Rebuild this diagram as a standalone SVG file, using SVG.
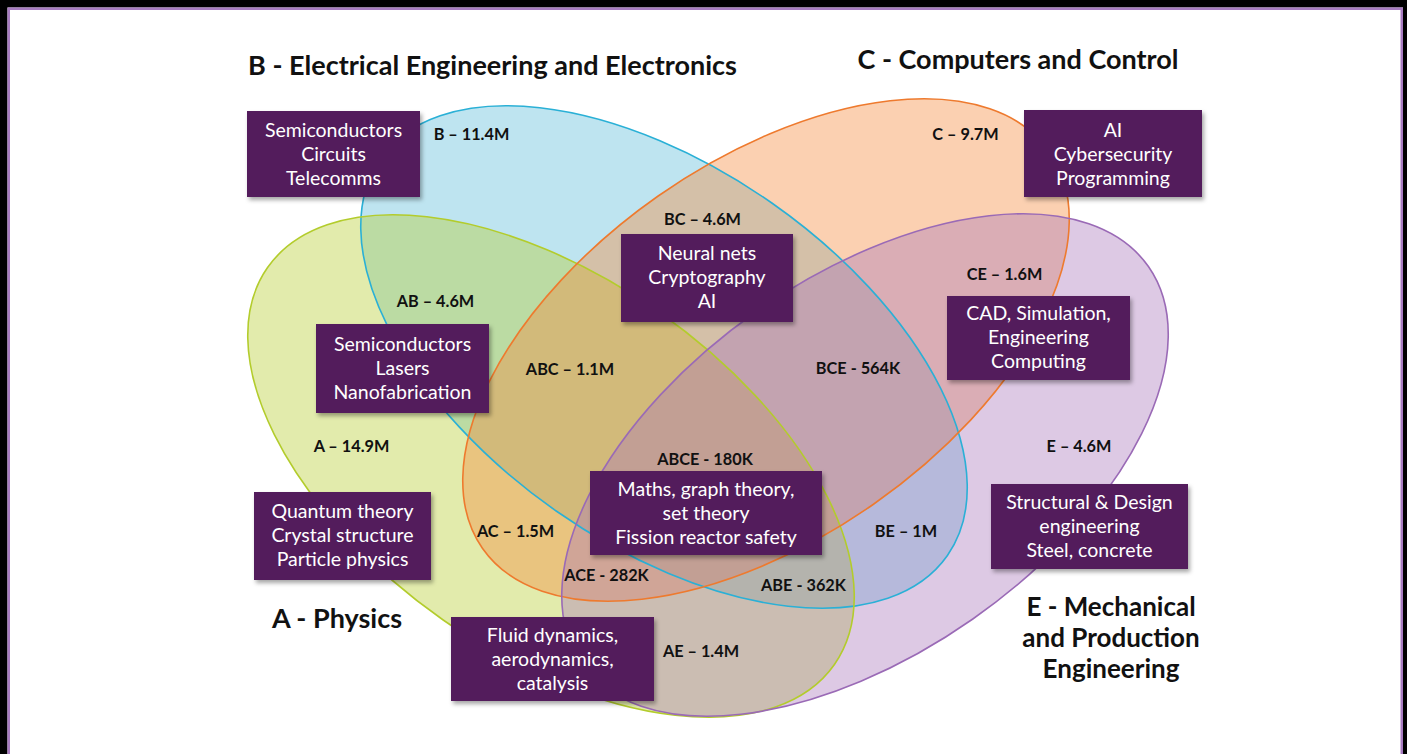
<svg xmlns="http://www.w3.org/2000/svg" width="1407" height="754" viewBox="0 0 1407 754">
<defs>
<style>
.set{fill-opacity:0.4;stroke:none}
.edge{fill:none;stroke-width:1.6}
.box{fill:#521a5c;filter:url(#sh)}
.bt{font-family:Lato,"Open Sans","DejaVu Sans",sans-serif;font-size:19.5px;fill:#ffffff;text-anchor:middle}
.lb{font-family:Lato,"Open Sans","DejaVu Sans",sans-serif;font-size:16.3px;font-weight:bold;fill:#111111;text-anchor:middle}
.tt{font-family:Lato,"Open Sans","DejaVu Sans",sans-serif;font-size:27px;font-weight:bold;fill:#111111;text-anchor:middle}
.te{font-size:26px}
</style>
<filter id="sh" x="-10%" y="-10%" width="125%" height="135%">
<feDropShadow dx="2" dy="3" stdDeviation="2" flood-color="#000000" flood-opacity="0.35"/>
</filter>
</defs>
<rect x="0" y="0" width="1407" height="754" fill="#000000"/>
<rect x="7.5" y="7.5" width="1395.5" height="760" fill="#ffffff"/>
<path d="M8.75,754 V8.75 H1401.75 V754" fill="none" stroke="#a77bc0" stroke-width="2.5"/>

<g id="sets">
<ellipse id="setB" class="set" cx="664" cy="357" rx="346" ry="188" transform="rotate(35 664 357)" fill="#5cbbd9"/>
<ellipse id="setA" class="set" cx="551" cy="466" rx="346" ry="188" transform="rotate(35 551 466)" fill="#b6cd2f"/>
<ellipse id="setC" class="set" cx="766" cy="350" rx="346" ry="188" transform="rotate(-35 766 350)" fill="#f5893c"/>
<ellipse id="setE" class="set" cx="865" cy="465" rx="346" ry="188" transform="rotate(-35 865 465)" fill="#aa78bb"/>
</g>
<g id="outlines">
<ellipse class="edge" cx="664" cy="357" rx="346" ry="188" transform="rotate(35 664 357)" stroke="#2ab0d6"/>
<ellipse class="edge" cx="551" cy="466" rx="346" ry="188" transform="rotate(35 551 466)" stroke="#b3cc2c"/>
<ellipse class="edge" cx="766" cy="350" rx="346" ry="188" transform="rotate(-35 766 350)" stroke="#ee7a2e"/>
<ellipse class="edge" cx="865" cy="465" rx="346" ry="188" transform="rotate(-35 865 465)" stroke="#9a6ab6"/>
</g>

<g id="titles">
<text class="tt" x="492.5" y="75">B - Electrical Engineering and Electronics</text>
<text class="tt" x="1018" y="69">C - Computers and Control</text>
<text class="tt" x="337" y="628">A - Physics</text>
<text class="tt te" x="1111" y="616">E - Mechanical</text>
<text class="tt te" x="1111" y="647">and Production</text>
<text class="tt te" x="1111" y="678">Engineering</text>
</g>

<g id="labels">
<text class="lb" x="471.5" y="140">B – 11.4M</text>
<text class="lb" x="965.5" y="140">C – 9.7M</text>
<text class="lb" x="702.5" y="225">BC – 4.6M</text>
<text class="lb" x="435.5" y="307">AB – 4.6M</text>
<text class="lb" x="1004.5" y="280">CE – 1.6M</text>
<text class="lb" x="570" y="375">ABC – 1.1M</text>
<text class="lb" x="858" y="374">BCE - 564K</text>
<text class="lb" x="351.5" y="452">A – 14.9M</text>
<text class="lb" x="1079" y="452">E – 4.6M</text>
<text class="lb" x="705" y="465">ABCE - 180K</text>
<text class="lb" x="515.5" y="537">AC – 1.5M</text>
<text class="lb" x="906" y="537">BE – 1M</text>
<text class="lb" x="606.5" y="581">ACE - 282K</text>
<text class="lb" x="803.5" y="591">ABE - 362K</text>
<text class="lb" x="701" y="657">AE – 1.4M</text>
</g>

<g id="box-B">
<rect class="box" x="247" y="111" width="173" height="86"/>
<text class="bt" x="333.5" y="137">Semiconductors</text>
<text class="bt" x="333.5" y="161">Circuits</text>
<text class="bt" x="333.5" y="185">Telecomms</text>
</g>
<g id="box-C">
<rect class="box" x="1024" y="110" width="178" height="87"/>
<text class="bt" x="1113" y="137">AI</text>
<text class="bt" x="1113" y="161">Cybersecurity</text>
<text class="bt" x="1113" y="185">Programming</text>
</g>
<g id="box-BC">
<rect class="box" x="621" y="234" width="172" height="88"/>
<text class="bt" x="707" y="260">Neural nets</text>
<text class="bt" x="707" y="284">Cryptography</text>
<text class="bt" x="707" y="308">AI</text>
</g>
<g id="box-CE">
<rect class="box" x="947" y="296" width="183" height="84"/>
<text class="bt" x="1038.5" y="320">CAD, Simulation,</text>
<text class="bt" x="1038.5" y="344">Engineering</text>
<text class="bt" x="1038.5" y="368">Computing</text>
</g>
<g id="box-AB">
<rect class="box" x="316" y="324" width="173" height="89"/>
<text class="bt" x="402.5" y="351">Semiconductors</text>
<text class="bt" x="402.5" y="375">Lasers</text>
<text class="bt" x="402.5" y="399">Nanofabrication</text>
</g>
<g id="box-ABCE">
<rect class="box" x="590" y="471" width="232" height="84"/>
<text class="bt" x="706" y="496">Maths, graph theory,</text>
<text class="bt" x="706" y="520">set theory</text>
<text class="bt" x="706" y="544">Fission reactor safety</text>
</g>
<g id="box-A">
<rect class="box" x="254" y="492" width="177" height="88"/>
<text class="bt" x="342.5" y="518">Quantum theory</text>
<text class="bt" x="342.5" y="542">Crystal structure</text>
<text class="bt" x="342.5" y="566">Particle physics</text>
</g>
<g id="box-E">
<rect class="box" x="991" y="484" width="197" height="85"/>
<text class="bt" x="1089.5" y="509">Structural &amp; Design</text>
<text class="bt" x="1089.5" y="533">engineering</text>
<text class="bt" x="1089.5" y="557">Steel, concrete</text>
</g>
<g id="box-AE">
<rect class="box" x="451" y="617" width="203" height="84"/>
<text class="bt" x="552.5" y="642">Fluid dynamics,</text>
<text class="bt" x="552.5" y="666">aerodynamics,</text>
<text class="bt" x="552.5" y="690">catalysis</text>
</g>
</svg>
